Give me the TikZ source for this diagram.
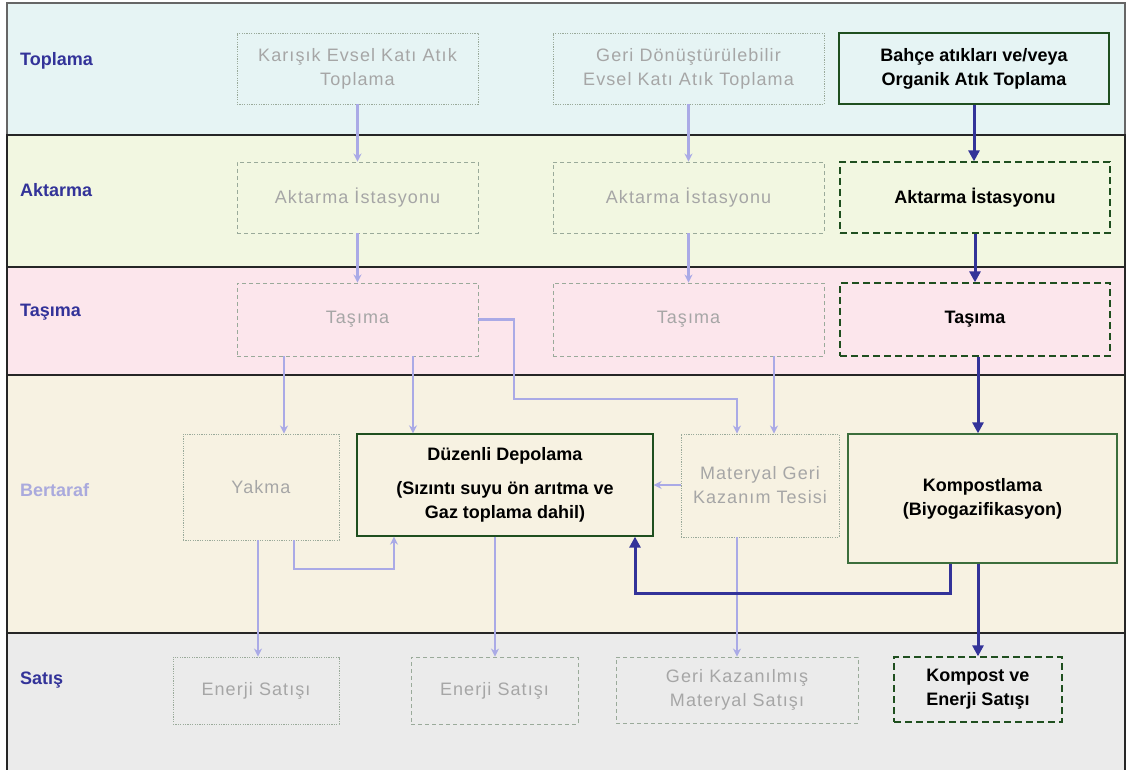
\documentclass[tikz,border=0pt]{standalone}
\usepackage{fontspec}
\setmainfont{Liberation Sans}
\newfontfamily\grayfont[LetterSpace=6]{Liberation Sans}
\usetikzlibrary{arrows.meta}
\definecolor{laneA}{HTML}{E6F4F4}
\definecolor{laneB}{HTML}{F2F7E1}
\definecolor{laneC}{HTML}{FCE6EC}
\definecolor{laneD}{HTML}{F7F2E2}
\definecolor{laneE}{HTML}{EBEBEB}
\definecolor{navy}{HTML}{333399}
\definecolor{lavlabel}{HTML}{AAAADD}
\definecolor{dkgreen}{HTML}{1F4F1F}
\definecolor{mdgreen}{HTML}{3C6E3C}
\definecolor{grayborder}{HTML}{9AAA9A}
\definecolor{graytext}{HTML}{A6A6A6}
\definecolor{lav}{HTML}{AAAAE6}
\begin{document}
\begin{tikzpicture}[x=1pt,y=-1pt,
  lanefill/.style={draw=black!85,line width=1.5pt},
  lanelbl/.style={anchor=west,text=navy,font=\fontsize{18}{22}\selectfont\bfseries,inner sep=0pt},
  gbox/.style={draw=grayborder,line width=0.9pt,dash pattern=on 1.2pt off 1.2pt,text=graytext,
    font=\fontsize{18}{24}\selectfont\grayfont,align=center,inner sep=0pt},
  gdash/.style={gbox,dash pattern=on 4pt off 3pt},
  bbox/.style={draw=dkgreen,line width=1.3pt,text=black,
    font=\fontsize{18}{24}\selectfont\bfseries,align=center,inner sep=0pt},
  bdash/.style={bbox,dash pattern=on 7pt off 4pt},
  lightarrow/.style={draw=lav,line width=2.6pt,-{Stealth[length=8pt,width=8pt]}},
  heavyarrow/.style={draw=navy,line width=3pt,-{Triangle[length=11pt,width=11pt]}}]
\useasboundingbox (0,0) rectangle (1128,770);
% lanes
\fill[white] (0,0) rectangle (1128,770);
\filldraw[lanefill,fill=laneA,draw=black!60] (7,3) rectangle (1125,135);
\filldraw[lanefill,fill=laneB] (7,135) rectangle (1125,267);
\filldraw[lanefill,fill=laneC] (7,267) rectangle (1125,375);
\filldraw[lanefill,fill=laneD] (7,375) rectangle (1125,633);
\fill[laneE] (7,633) rectangle (1125,770);
\draw[lanefill] (7,770) -- (7,633) -- (1125,633) -- (1125,770);
% lane labels
\node[lanelbl] (lT) at (20,61) {Toplama};
\node[lanelbl] (lA) at (20,190) {Aktarma};
\node[lanelbl] (lS) at (20,312) {Taşıma};
\node[lanelbl,text=lavlabel] (lB) at (20,490) {Bertaraf};
\node[lanelbl] (lY) at (20,680) {Satış};
% boxes row 1
\node[gbox,minimum width=241pt,minimum height=71pt] (k1) at (357.5,68.5) {Karışık Evsel Katı Atık\\Toplama};
\node[gbox,minimum width=271pt,minimum height=71pt] (g1) at (688.5,68.5) {Geri Dönüştürülebilir\\Evsel Katı Atık Toplama};
\node[bbox,minimum width=270pt,minimum height=71pt] (b1) at (974,68.5) {Bahçe atıkları ve/veya\\Organik Atık Toplama};
% row 2
\node[gdash,minimum width=241pt,minimum height=71pt] (a1) at (357.5,197.5) {Aktarma İstasyonu};
\node[gdash,minimum width=271pt,minimum height=71pt] (a2) at (688.5,197.5) {Aktarma İstasyonu};
\node[bdash,minimum width=270pt,minimum height=71pt] (a3) at (975,197.5) {Aktarma İstasyonu};
% row 3
\node[gdash,minimum width=241pt,minimum height=73pt] (t1) at (357.5,319.5) {Taşıma};
\node[gdash,minimum width=271pt,minimum height=73pt] (t2) at (688.5,319.5) {Taşıma};
\node[bdash,minimum width=270pt,minimum height=73pt] (t3) at (975,319.5) {Taşıma};
% row 4
\node[gbox,minimum width=156pt,minimum height=106pt] (yak) at (261,487) {Yakma};
\node[bbox,minimum width=296pt,minimum height=102pt] (dep) at (505,485) {Düzenli Depolama\\[10pt](Sızıntı suyu ön arıtma ve\\Gaz toplama dahil)};
\node[gbox,minimum width=158pt,minimum height=103pt] (mat) at (760,485.5) {Materyal Geri\\Kazanım Tesisi};
\node[bbox,draw=mdgreen,minimum width=269pt,minimum height=129pt] (komp) at (982.5,498.5) {Kompostlama\\(Biyogazifikasyon)};
% row 5
\node[gbox,minimum width=166pt,minimum height=67pt] (e1) at (256,690.5) {Enerji Satışı};
\node[gdash,minimum width=167pt,minimum height=67pt] (e2) at (494.5,690.5) {Enerji Satışı};
\node[gdash,minimum width=242pt,minimum height=66pt] (gk) at (737,690) {Geri Kazanılmış\\Materyal Satışı};
\node[bdash,minimum width=168pt,minimum height=65pt] (ke) at (978,689.5) {Kompost ve\\Enerji Satışı};
% helper coordinates
\coordinate (x258) at (258,0);
\coordinate (x284) at (284,0);
\coordinate (x294) at (294,0);
\coordinate (x394) at (394,0);
\coordinate (x413) at (413,0);
\coordinate (x495) at (495,0);
\coordinate (x635) at (635,0);
\coordinate (x737) at (737,0);
\coordinate (x774) at (774,0);
\coordinate (x950) at (950,0);
\coordinate (x978) at (978,0);
\coordinate (y485) at (0,485);
\coordinate (p1) at (514,319.5);
\coordinate (p2) at (514,399);
\coordinate (p3) at (737,399);
\coordinate (q1) at (294,569);
\coordinate (q2) at (394,569);
\coordinate (r1) at (950,593);
\coordinate (r2) at (635,593);
% light connectors
\draw[lightarrow] (k1.south) -- (a1.north);
\draw[lightarrow] (a1.south) -- (t1.north);
\draw[lightarrow] (g1.south) -- (a2.north);
\draw[lightarrow] (a2.south) -- (t2.north);
\draw[lightarrow] (t1.south -| x284) -- (yak.north -| x284);
\draw[lightarrow] (t1.south -| x413) -- (dep.north -| x413);
\draw[lightarrow] (t1.east) -- (p1) -- (p2) -- (p3) -- (mat.north -| x737);
\draw[lightarrow] (t2.south -| x774) -- (mat.north -| x774);
\draw[lightarrow] (mat.west |- y485) -- (dep.east |- y485);
\draw[lightarrow] (yak.south -| x258) -- (e1.north -| x258);
\draw[lightarrow] (yak.south -| x294) -- (q1) -- (q2) -- (dep.south -| x394);
\draw[lightarrow] (dep.south -| x495) -- (e2.north -| x495);
\draw[lightarrow] (mat.south -| x737) -- (gk.north -| x737);
% heavy connectors
\draw[heavyarrow] (b1.south) -- (b1.south |- a3.north);
\draw[heavyarrow] (a3.south) -- (t3.north);
\draw[heavyarrow] (t3.south -| x978) -- (komp.north -| x978);
\draw[heavyarrow] (komp.south -| x950) -- (r1) -- (r2) -- (dep.south -| x635);
\draw[heavyarrow] (komp.south -| x978) -- (ke.north -| x978);
\end{tikzpicture}
\end{document}
